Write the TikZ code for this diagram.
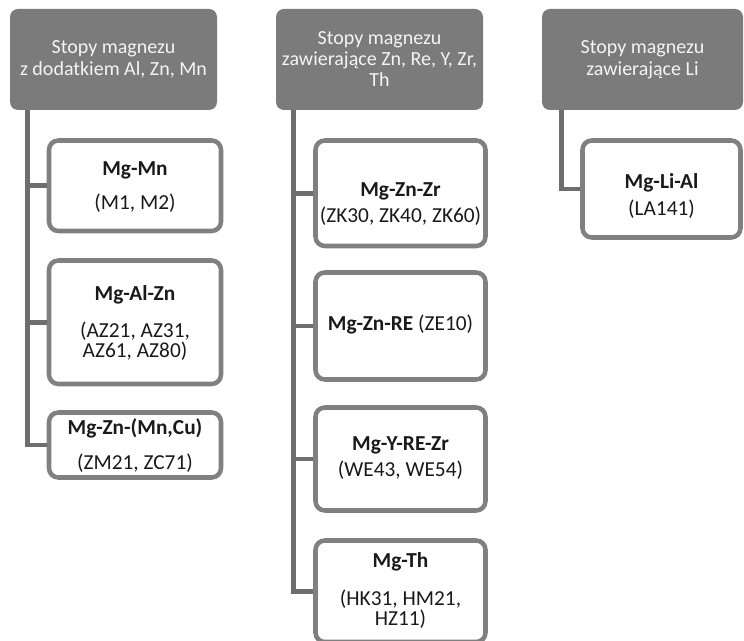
\documentclass[tikz,border=0pt]{standalone}
\usepackage{fontspec}
\setmainfont{Carlito}
\definecolor{hdrfill}{HTML}{7B7B7B}
\definecolor{boxline}{HTML}{808080}
\definecolor{connline}{HTML}{6E6E6E}
\definecolor{txt}{HTML}{1A1A1A}
\definecolor{hdrtxt}{HTML}{F4F4F4}
\begin{document}
\begin{tikzpicture}[x=0.75pt,y=-0.75pt,
  hdr/.style={fill=hdrfill, rounded corners=6pt, text=hdrtxt, align=center,
    font=\fontsize{15}{16.25}\selectfont, inner sep=0pt, minimum height=75.75pt},
  box/.style={draw=boxline, line width=3.4pt, fill=white, rounded corners=7pt},
  lbl/.style={anchor=north, align=center, inner sep=0pt, text=txt,
    font=\fontsize{16}{12.75}\selectfont, execute at begin node={\rule{0pt}{12pt}}},
  conn/.style={draw=connline, line width=3.7pt}]
\useasboundingbox (0,0) rectangle (744,641);

% headers
\node[hdr, minimum width=155.25pt] (H1) at (113.5,59.5) {Stopy magnezu\\z dodatkiem Al, Zn, Mn};
\node[hdr, minimum width=155.25pt, font=\fontsize{15}{15.75}\selectfont] (H2) at (379.5,59.5) {Stopy magnezu\\zawierające Zn, Re, Y, Zr,\\Th};
\node[hdr, minimum width=150.75pt] (H3) at (642.5,59.5) {Stopy magnezu\\zawierające Li};

% boxes column 1
\node[box, minimum width=129pt, minimum height=67.875pt] (B1) at (135,185.75) {};
\node[box, minimum width=129pt, minimum height=92.625pt] (B2) at (135,322.25) {};
\node[box, minimum width=129pt, minimum height=48.75pt] (B3) at (135,445) {};
% boxes column 2
\node[box, minimum width=127.5pt, minimum height=79.125pt] (B4) at (400.5,193.25) {};
\node[box, minimum width=127.5pt, minimum height=80.25pt] (B5) at (400.5,326) {};
\node[box, minimum width=127.5pt, minimum height=77.25pt] (B6) at (400.5,459) {};
\node[box, minimum width=127.5pt, minimum height=76.125pt] (B7) at (400.5,591.25) {};
% box column 3
\node[box, minimum width=118.5pt, minimum height=72.75pt] (B8) at (661.5,189) {};

% texts
\node[lbl] (T1) at (135,161) {\textbf{Mg-Mn}\\[10.5pt](M1, M2)};
\node[lbl] (T2) at (135,285) {\textbf{Mg-Al-Zn}\\[12.75pt](AZ21, AZ31,\\AZ61, AZ80)};
\node[lbl] (T3) at (135,418) {\textbf{Mg-Zn-(Mn,Cu)}\\[11.25pt](ZM21, ZC71)};
\node[lbl] (T4) at (400.5,182) {\textbf{Mg-Zn-Zr}\\[4.5pt](ZK30, ZK40, ZK60)};
\node[lbl] (T5) at (400.5,314) {\textbf{Mg-Zn-RE} (ZE10)};
\node[lbl] (T6) at (400.5,436) {\textbf{Mg-Y-RE-Zr}\\[4.5pt](WE43, WE54)};
\node[lbl] (T7) at (400.5,552) {\textbf{Mg-Th}\\[13.5pt](HK31, HM21,\\HZ11)};
\node[lbl] (T8) at (661.5,173) {\textbf{Mg-Li-Al}\\[5.25pt](LA141)};

% connectors
\foreach \b in {B1,B2,B3}
  \draw[conn] (H1.south west) ++(18,0) |- (\b.west);
\foreach \b in {B4,B5,B6,B7}
  \draw[conn] (H2.south west) ++(18,0) |- (\b.west);
\draw[conn] (H3.south west) ++(19.5,0) |- (B8.west);
\end{tikzpicture}
\end{document}
